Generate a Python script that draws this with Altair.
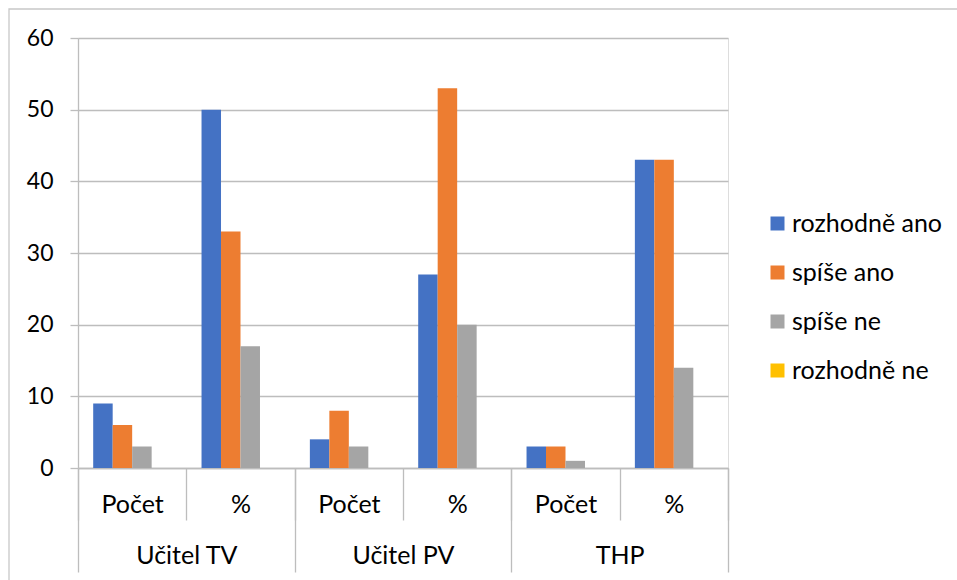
import altair as alt
import pandas as pd

# Survey answers by respondent group: count ("Počet") and share ("%")
groups = ["Učitel TV", "Učitel PV", "THP"]
measures = ["Počet", "%"]
series = ["rozhodně ano", "spíše ano", "spíše ne", "rozhodně ne"]
colors = ["#4472C4", "#ED7D31", "#A5A5A5", "#FFC000"]

# one value per (group, measure) slot, in the order of the slots below
rozhodne_ano = [9, 50, 4, 27, 3, 43]
spise_ano = [6, 33, 8, 53, 3, 43]
spise_ne = [3, 17, 3, 20, 1, 14]
rozhodne_ne = [0, 0, 0, 0, 0, 0]

slots = [f"{g}|{m}" for g in groups for m in measures]
rows = []
for name, vals in zip(series, [rozhodne_ano, spise_ano, spise_ne, rozhodne_ne]):
    for slot, v in zip(slots, vals):
        rows.append({"slot": slot, "serie": name, "hodnota": v})
df = pd.DataFrame(rows)
df_groups = pd.DataFrame({"skupina": groups})

FONT = "Lato"
FS = 25
FS_Y = 23
LINE = "#BDBDBD"

W, H = 650, 430

bars = alt.Chart(df).mark_bar().encode(
    x=alt.X(
        "slot:N",
        sort=slots,
        scale=alt.Scale(paddingInner=0, paddingOuter=0),
        axis=alt.Axis(
            orient="bottom",
            title=None,
            labelExpr="split(datum.label, '|')[1]",
            labelAngle=0,
            labelFontSize=FS,
            labelFont=FONT,
            labelColor="#000000",
            labelBaseline="alphabetic",
            labelPadding=-8,
            tickBand="extent",
            tickSize=52,
            tickColor=LINE,
            tickWidth=1.3,
            domainColor=LINE,
            domainWidth=1.3,
            grid=False,
        ),
    ),
    xOffset=alt.XOffset(
        "serie:N",
        sort=series,
        scale=alt.Scale(paddingInner=0, paddingOuter=0.78),
    ),
    y=alt.Y(
        "hodnota:Q",
        scale=alt.Scale(domain=[0, 60], nice=False),
        axis=alt.Axis(
            title=None,
            values=[0, 10, 20, 30, 40, 50, 60],
            labelFontSize=FS_Y,
            labelFont=FONT,
            labelColor="#000000",
            labelPadding=17,
            tickSize=8,
            tickColor=LINE,
            tickWidth=1.3,
            grid=True,
            gridColor=LINE,
            gridWidth=1.3,
            domainColor=LINE,
            domainWidth=1.3,
        ),
    ),
    color=alt.Color(
        "serie:N",
        sort=series,
        scale=alt.Scale(domain=series, range=colors),
        legend=alt.Legend(
            title=None,
            orient="none",
            legendX=687,
            legendY=173,
            padding=0,
            symbolType="square",
            symbolSize=196,
            symbolStrokeWidth=0,
            labelFontSize=FS,
            labelFont=FONT,
            labelColor="#000000",
            labelOffset=2,
            rowPadding=23,
        ),
    ),
)

# outer category level: group names with long separators
group_axis = alt.Chart(df_groups).mark_point(opacity=0).encode(
    x=alt.X(
        "skupina:N",
        sort=groups,
        scale=alt.Scale(paddingInner=0, paddingOuter=0),
        axis=alt.Axis(
            orient="bottom",
            title=None,
            labelAngle=0,
            labelFontSize=FS,
            labelFont=FONT,
            labelColor="#000000",
            labelBaseline="alphabetic",
            labelPadding=-9,
            tickBand="extent",
            tickSize=104,
            tickColor=LINE,
            tickWidth=1.3,
            domain=False,
            grid=False,
        ),
    ),
    y=alt.value(H),
)

# light frame around the whole chart
frame = alt.Chart(pd.DataFrame({"k": [0]})).mark_rect(
    filled=False, stroke="#C8C8C8", strokeWidth=1.3
).encode(
    x=alt.value(-69), x2=alt.value(960), y=alt.value(-29), y2=alt.value(620)
)

chart = (
    alt.layer(frame, bars, group_axis)
    .resolve_scale(x="independent")
    .properties(
        width=W,
        height=H,
        autosize=alt.AutoSizeParams(type="none"),
        padding={"left": 78, "top": 38, "right": 229, "bottom": 112},
        background="#FFFFFF",
    )
    .configure_view(stroke=None)
    .configure(font=FONT)
)

chart.save("out.html", embed_options={"renderer": "svg", "actions": False})
